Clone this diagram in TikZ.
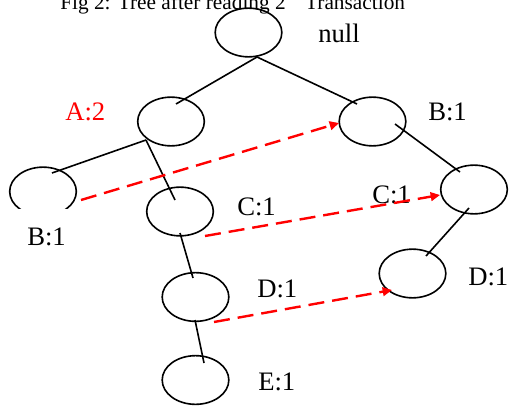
\documentclass[tikz,border=0pt]{standalone}
\usepackage{fontspec}
\setmainfont{Liberation Serif}
\usetikzlibrary{shapes.geometric,arrows.meta,calc}
\tikzset{
  ell/.style={ellipse, draw, line width=1.2pt, minimum width=50pt, minimum height=36.5pt, inner sep=0pt},
  edge/.style={line width=1.2pt},
  link/.style={draw=red, line width=1.8pt, dash pattern=on 12pt off 6pt, -{Triangle[length=7pt,width=6.5pt]}},
  lbl/.style={anchor=base west, inner sep=0pt, font=\fontsize{20}{24}\selectfont},
  ttl/.style={anchor=base west, inner sep=0pt, font=\fontsize{16}{19}\selectfont}
}
\begin{document}
\begin{tikzpicture}[x=0.75pt,y=-0.75pt]
\useasboundingbox (0,0) rectangle (509,406);
% title
\node[ttl] (title) at (60,10) {Fig 2: Tree after reading 2\raisebox{0.55em}{\fontsize{10.5}{12}\selectfont nd} Transaction};
% nodes
\node[ell] (null) at (248.5,32.5) {};
\node[ell] (a) at (171,121.5) {};
\node[ell] (br) at (372.5,121.5) {};
\begin{scope}
  \clip (0,0) rectangle (509,208);
  \node[ell] (bl) at (43,191.5) {};
\end{scope}
\node[ell] (cr) at (474,189.5) {};
\node[ell] (cl) at (180,211.5) {};
\node[ell] (dr) at (412.5,273.5) {};
\node[ell] (dl) at (195.5,297) {};
\node[ell] (e) at (195.5,380) {};
% labels
\node[lbl] (lnull) at (318,43) {null};
\node[lbl, text=red] (la) at (65,121) {A:2};
\node[lbl] (lbr) at (428,121) {B:1};
\node[lbl] (lbl) at (27,245) {B:1};
\node[lbl] (lcl) at (237,215) {C:1};
\node[lbl] (lcr) at (372,203) {C:1};
\node[lbl] (ldl) at (257,297) {D:1};
\node[lbl] (ldr) at (468,285) {D:1};
\node[lbl] (le) at (258,390) {E:1};
% tree edges
\draw[edge] ($(null)+(8.5,24.5)$) -- ($(a)+(5,-17.5)$);
\draw[edge] ($(null)+(8.5,24.5)$) -- ($(br)+(-15.5,-17.5)$);
\draw[edge] ($(a)+(-25,18.5)$) -- ($(bl)+(9,-18.5)$);
\draw[edge] ($(a)+(-25,18.5)$) -- ($(cl)+(-5,-11.5)$);
\draw[edge] ($(cl)+(0,21.5)$) -- ($(dl)+(-2.5,-19)$);
\draw[edge] ($(dl)+(-0.5,23)$) -- ($(e)+(8.5,-17)$);
\draw[edge] ($(br)+(22.5,2.5)$) -- ($(cr)+(-14,-17.5)$);
\draw[edge] ($(cr)+(-5,18.5)$) -- ($(dr)+(13.5,-17.5)$);
% node links
\draw[link] ($(bl)+(38,8.5)$) -- ($(br)+(-33.5,1.5)$);
\draw[link] ($(cl)+(25,24.5)$) -- ($(cr)+(-34,5.5)$);
\draw[link] ($(dl)+(18.5,25)$) -- ($(dr)+(-20.5,16.5)$);
\end{tikzpicture}
\end{document}
